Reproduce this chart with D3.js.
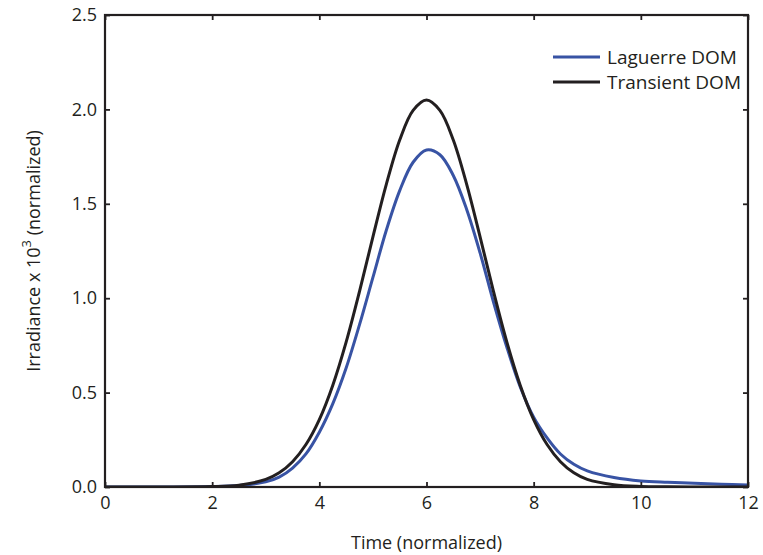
<!DOCTYPE html>
<html>
<head>
<meta charset="utf-8">
<script src="https://cdn.jsdelivr.net/npm/d3@7"></script>
<style>
  body { margin: 0; background: #fff; }
  svg text { font-family: "Open Sans", "Noto Sans", sans-serif; fill: #231f20; }
</style>
</head>
<body>
<svg id="chart" width="763" height="555"></svg>
<script>
// values (time normalized, irradiance x 10^3)
const timeSteps = [0, 1, 2, 2.5, 3, 3.25, 3.5, 3.75, 4, 4.25, 4.5, 4.75, 5, 5.25, 5.5, 5.75, 6,
  6.25, 6.5, 6.75, 7, 7.25, 7.5, 7.75, 8, 8.25, 8.5, 8.75, 9, 9.5, 10, 10.5, 11, 11.5, 12]

const laguerre = [0, 0.0005, 0.002, 0.008, 0.027, 0.052, 0.1, 0.175, 0.29, 0.44, 0.63, 0.86, 1.11,
  1.36, 1.57, 1.72, 1.785, 1.76, 1.65, 1.47, 1.24, 0.98, 0.74, 0.53, 0.37, 0.26, 0.175, 0.12,
  0.085, 0.05, 0.032, 0.025, 0.02, 0.015, 0.01]

const transient = [0, 0.0001, 0.002, 0.0097, 0.04, 0.075, 0.134, 0.225, 0.357, 0.538, 0.767, 1.036,
  1.325, 1.603, 1.838, 1.995, 2.05, 1.995, 1.838, 1.603, 1.325, 1.036, 0.767, 0.538, 0.357,
  0.225, 0.134, 0.075, 0.04, 0.012, 0.003, 0.001, 0, 0, 0]

const xTicks = [0, 2, 4, 6, 8, 10, 12]
const yTicks = [0, 0.5, 1.0, 1.5, 2.0, 2.5]

const series = [
  { name: 'Laguerre DOM', values: laguerre, color: '#3853a4' },
  { name: 'Transient DOM', values: transient, color: '#231f20' },
]

const margin = { top: 15, right: 15, bottom: 68, left: 105 }
const W = 763, H = 555
const w = W - margin.left - margin.right
const h = H - margin.top - margin.bottom

const svg = d3.select('#chart')
const g = svg.append('g').attr('transform', `translate(${margin.left},${margin.top})`)

const x = d3.scaleLinear().domain([0, 12]).range([0, w])
const y = d3.scaleLinear().domain([0, 2.5]).range([h, 0])

const line = d3.line()
  .x((d, i) => x(timeSteps[i]))
  .y(d => y(Math.max(d, 0)))
  .curve(d3.curveCatmullRom.alpha(0.5))

g.append('defs').append('clipPath').attr('id', 'clip')
  .append('rect').attr('width', w).attr('height', h)

const curves = g.append('g').attr('clip-path', 'url(#clip)')
// draw blue first so the black one sits on top where they overlap
series.forEach(s => {
  curves.append('path')
    .datum(s.values)
    .attr('fill', 'none')
    .attr('stroke', s.color)
    .attr('stroke-width', 3)
    .attr('d', line)
})

// axes, ticks inward on all four sides
const tickLen = 5
const fmtY = d3.format('.1f')

const axBottom = g.append('g').attr('transform', `translate(0,${h})`)
  .call(d3.axisBottom(x).tickValues(xTicks).tickSizeInner(-tickLen).tickSizeOuter(0).tickPadding(9))
const axTop = g.append('g')
  .call(d3.axisTop(x).tickValues(xTicks).tickSizeInner(-tickLen).tickSizeOuter(0).tickFormat(''))
const axLeft = g.append('g')
  .call(d3.axisLeft(y).tickValues(yTicks).tickSizeInner(-tickLen).tickSizeOuter(0).tickPadding(8).tickFormat(fmtY))
const axRight = g.append('g').attr('transform', `translate(${w},0)`)
  .call(d3.axisRight(y).tickValues(yTicks).tickSizeInner(-tickLen).tickSizeOuter(0).tickFormat(''))

;[axBottom, axTop, axLeft, axRight].forEach(a => {
  a.select('.domain').remove()
  a.selectAll('.tick line').attr('stroke', '#231f20').attr('stroke-width', 1.8)
  a.selectAll('.tick text').attr('font-size', 18).style('fill', '#231f20')
})

g.append('rect')
  .attr('width', w).attr('height', h)
  .attr('fill', 'none')
  .attr('stroke', '#231f20')
  .attr('stroke-width', 2.2)

// axis titles
svg.append('text')
  .attr('x', margin.left + w / 2)
  .attr('y', 549)
  .attr('text-anchor', 'middle')
  .attr('font-size', 18)
  .text('Time (normalized)')

const yt = svg.append('text')
  .attr('transform', `translate(40,${margin.top + h / 2}) rotate(-90)`)
  .attr('text-anchor', 'middle')
  .attr('font-size', 18)
yt.append('tspan').text('Irradiance x 10')
yt.append('tspan').attr('dy', -9).attr('font-size', 13).text('3')
yt.append('tspan').attr('dy', 9).text(' (normalized)')

// legend
const legend = g.append('g').attr('transform', `translate(${553 - margin.left},${57 - margin.top})`)
series.forEach((s, i) => {
  const row = legend.append('g').attr('transform', `translate(0,${i * 25})`)
  row.append('line')
    .attr('x1', 0).attr('x2', 47)
    .attr('stroke', s.color).attr('stroke-width', 3)
  row.append('text')
    .attr('x', 54).attr('dy', '0.35em')
    .attr('font-size', 19)
    .text(s.name)
})
</script>
</body>
</html>
